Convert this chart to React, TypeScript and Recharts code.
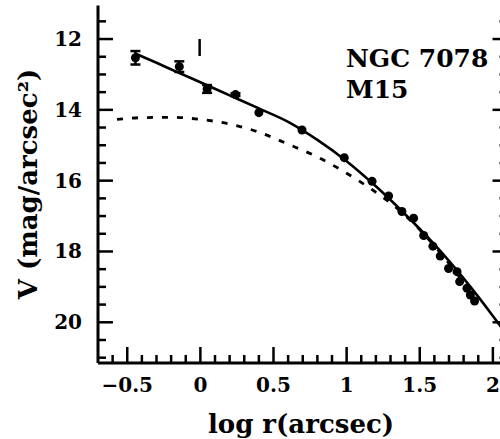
import React from 'react';
import {
  ComposedChart, XAxis, YAxis, Line, Scatter, ErrorBar, ReferenceLine, Customized,
} from 'recharts';

// observed surface brightness points with error bars (inner region)
const innerPoints = [
  { x: -0.444, y: 12.53, err: 0.19 },
  { x: -0.144, y: 12.78, err: 0.15 },
  { x: 0.046, y: 13.41, err: 0.11 },
  { x: 0.24, y: 13.57, err: 0.04 },
];

// remaining observed points
const outerPoints = [
  { x: 0.40, y: 14.08 },
  { x: 0.695, y: 14.57 },
  { x: 0.984, y: 15.35 },
  { x: 1.174, y: 16.02 },
  { x: 1.287, y: 16.43 },
  { x: 1.378, y: 16.87 },
  { x: 1.458, y: 17.06 },
  { x: 1.527, y: 17.55 },
  { x: 1.59, y: 17.85 },
  { x: 1.64, y: 18.13 },
  { x: 1.697, y: 18.48 },
  { x: 1.755, y: 18.57 },
  { x: 1.773, y: 18.85 },
  { x: 1.823, y: 19.04 },
  { x: 1.846, y: 19.23 },
  { x: 1.875, y: 19.40 },
];

// solid model curve
const modelX = [-0.45, -0.3, -0.15, 0, 0.2, 0.4, 0.6, 0.8, 1.0, 1.2, 1.4, 1.6, 1.8, 2.0, 2.1];
const modelY = [12.40, 12.67, 12.95, 13.22, 13.59, 13.96, 14.34, 14.85, 15.45, 16.16, 16.95, 17.80, 18.76, 19.82, 20.38];

// dashed King-type curve
const kingX = [-0.57, -0.4, -0.2, 0, 0.2, 0.4, 0.6, 0.8, 1.0, 1.2, 1.4, 1.6, 1.8, 1.88];
const kingY = [14.27, 14.22, 14.21, 14.27, 14.40, 14.63, 14.97, 15.33, 15.79, 16.33, 16.98, 17.84, 18.88, 19.35];

const xTicks = [-0.6, -0.5, -0.4, -0.3, -0.2, -0.1, 0, 0.1, 0.2, 0.3, 0.4, 0.5, 0.6, 0.7, 0.8, 0.9, 1.0,
  1.1, 1.2, 1.3, 1.4, 1.5, 1.6, 1.7, 1.8, 1.9, 2.0];
const xLabels: Record<string, string> = { '-0.5': '\u22120.5', '0': '0', '0.5': '0.5', '1': '1', '1.5': '1.5', '2': '2' };
const yTicks = [11.5, 12, 12.5, 13, 13.5, 14, 14.5, 15, 15.5, 16, 16.5, 17, 17.5, 18, 18.5, 19, 19.5, 20, 20.5, 21];
const yLabels: Record<string, string> = { '12': '12', '14': '14', '16': '16', '18': '18', '20': '20' };

const modelData = modelX.map((x, i) => ({ x, y: modelY[i] }));
const kingData = kingX.map((x, i) => ({ x, y: kingY[i] }));

const FONT = '"DejaVu Serif", serif';

const isHalf = (v: number) => Math.abs(v * 2 - Math.round(v * 2)) < 1e-6;
const isEven = (v: number) => Math.abs(v / 2 - Math.round(v / 2)) < 1e-6;

const BottomTick = (p: any) => {
  const v = p.payload.value;
  const major = isHalf(v);
  const key = String(Math.round(v * 10) / 10);
  return (
    <g>
      <line x1={p.x} x2={p.x} y1={p.y} y2={p.y - (major ? 16 : 8)} stroke="#000" strokeWidth={2.5} />
      {major && xLabels[key] !== undefined && (
        <text x={p.x} y={p.y + 29} textAnchor="middle" fontFamily={FONT} fontWeight="bold" fontSize={20} fill="#000">
          {xLabels[key]}
        </text>
      )}
    </g>
  );
};

const LeftTick = (p: any) => {
  const v = p.payload.value;
  const major = isEven(v);
  const key = String(v);
  return (
    <g>
      <line x1={p.x} x2={p.x + (major ? 15 : 8)} y1={p.y} y2={p.y} stroke="#000" strokeWidth={2.5} />
      {major && yLabels[key] !== undefined && (
        <text x={p.x - 16} y={p.y + 7} textAnchor="end" fontFamily={FONT} fontWeight="bold" fontSize={20} fill="#000">
          {yLabels[key]}
        </text>
      )}
    </g>
  );
};

const RightTick = (p: any) => {
  const v = p.payload.value;
  const major = isEven(v);
  return <line x1={p.x} x2={p.x - (major ? 15 : 8)} y1={p.y} y2={p.y} stroke="#000" strokeWidth={2.5} />;
};

const Dot = (p: any) => <circle cx={p.cx} cy={p.cy} r={4.5} fill="#000" />;

const Texts = () => (
  <g fontFamily={FONT} fill="#000">
    <text x={346} y={67} fontSize={25} fontWeight="bold">NGC 7078</text>
    <text x={346} y={98} fontSize={25} fontWeight="bold">M15</text>
    <text x={301} y={433} fontSize={26} fontWeight="bold" textAnchor="middle">log r(arcsec)</text>
    <text transform="translate(37,184) rotate(-90)" fontSize={26} fontWeight="bold" textAnchor="middle">
      V (mag/arcsec²)
    </text>
  </g>
);

export default function App() {
  return (
    <div style={{ position: 'absolute', left: 0, top: 0, width: 500, height: 439, overflow: 'hidden', background: '#fff' }}>
      <ComposedChart width={508.5} height={439} margin={{ top: 5.4, right: 0, bottom: 0, left: 0 }}>
        <XAxis
          dataKey="x" type="number" domain={[-0.7, 2.1]} ticks={xTicks} interval={0}
          height={76} tickSize={0} tickMargin={0} tickLine={false} tick={<BottomTick />}
          axisLine={{ stroke: '#000', strokeWidth: 3 }} allowDataOverflow
        />
        <XAxis
          xAxisId="top" orientation="top" dataKey="x" type="number" domain={[-0.7, 2.1]} height={0}
          tick={false} tickLine={false} axisLine={{ stroke: '#000', strokeWidth: 3 }} allowDataOverflow
        />
        <YAxis
          dataKey="y" type="number" domain={[11.05, 21.15]} reversed ticks={yTicks} interval={0}
          width={98} tickSize={0} tickMargin={0} tickLine={false} tick={<LeftTick />}
          axisLine={{ stroke: '#000', strokeWidth: 3 }} allowDataOverflow
        />
        <YAxis
          yAxisId="r" orientation="right" type="number" domain={[11.05, 21.15]} reversed ticks={yTicks} interval={0}
          width={1} tickSize={0} tickMargin={0} tickLine={false} tick={<RightTick />}
          axisLine={{ stroke: '#000', strokeWidth: 3 }} allowDataOverflow
        />
        <Line data={kingData} dataKey="y" type="monotone" stroke="#000" strokeWidth={2.8}
          strokeDasharray="6 9" dot={false} isAnimationActive={false} />
        <Line data={modelData} dataKey="y" type="monotone" stroke="#000" strokeWidth={2.6}
          dot={false} isAnimationActive={false} />
        <Scatter data={innerPoints} dataKey="y" shape={<Dot />} isAnimationActive={false}>
          <ErrorBar dataKey="err" direction="y" width={5} stroke="#000" strokeWidth={2.5} isAnimationActive={false} />
        </Scatter>
        <Scatter data={outerPoints} dataKey="y" shape={<Dot />} isAnimationActive={false} />
        <ReferenceLine segment={[{ x: -0.005, y: 12.0 }, { x: -0.005, y: 12.48 }]} stroke="#000" strokeWidth={2.5} />
        <Customized component={Texts} />
      </ComposedChart>
    </div>
  );
}
